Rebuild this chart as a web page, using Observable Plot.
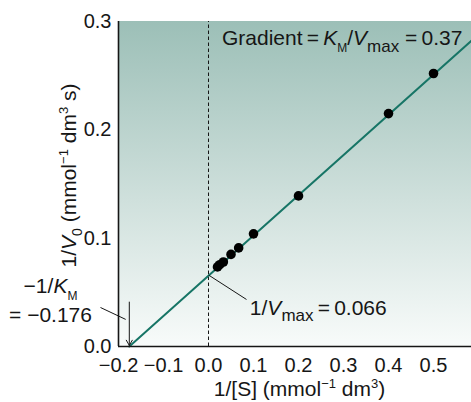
<!DOCTYPE html>
<html><head><meta charset="utf-8">
<script src="https://cdn.jsdelivr.net/npm/d3@7"></script>
<script src="https://cdn.jsdelivr.net/npm/@observablehq/plot@0.6"></script>
<style>body{margin:0;background:#fff} #chart svg{display:block}</style>
</head><body><div id="chart"></div>
<script>
// Data
const invS  = [0.02, 0.025, 0.033, 0.05, 0.067, 0.1, 0.2, 0.4, 0.5];
const invV0 = [0.0735, 0.0755, 0.078, 0.085, 0.091, 0.104, 0.139, 0.215, 0.252];
const fitX = [-0.176, 0.585];
const fitY = [0, 0.2825];
const invVmax = 0.066;
const negInvKm = -0.176;
const xTicks = [-0.2, -0.1, 0, 0.1, 0.2, 0.3, 0.4, 0.5];
const yTicks = [0, 0.1, 0.2, 0.3];

const FONT = "'Liberation Sans', Arial, Helvetica, sans-serif";
const INK = "#161616";

const points = invS.map((x, i) => ({x, y: invV0[i]}));
const fit = fitX.map((x, i) => ({x, y: fitY[i]}));

function richText(node, segs, size) {
  let shift = 0;
  for (const s of segs) {
    const ts = node.append("tspan").text(s.t);
    const target = s.sub ? size * 0.3 : s.sup ? -size * 0.4 : 0;
    if (target !== shift) { ts.attr("dy", target - shift); shift = target; }
    if (s.it) ts.attr("font-style", "italic");
    if (s.fs) ts.attr("font-size", s.fs);
    if (s.dx) ts.attr("dx", s.dx);
  }
}

// annotation placed at data coordinates via the plot's scales
function note(x, y, segs, {anchor = "start", size = 21} = {}) {
  return (index, scales) => {
    const g = d3.create("svg:g");
    const t = g.append("text")
      .attr("x", scales.x(x)).attr("y", scales.y(y))
      .attr("text-anchor", anchor).attr("font-size", size)
      .attr("font-family", FONT).attr("fill", INK);
    richText(t, segs, size);
    return g.node();
  };
}

const background = (index, scales, values, dims) => {
  const g = d3.create("svg:g");
  const grad = g.append("defs").append("linearGradient")
    .attr("id", "bgGrad").attr("x1", 0).attr("y1", 0).attr("x2", 0).attr("y2", 1);
  grad.append("stop").attr("offset", "0%").attr("stop-color", "#9cbfb7");
  grad.append("stop").attr("offset", "55%").attr("stop-color", "#cfe0dc");
  grad.append("stop").attr("offset", "100%").attr("stop-color", "#f8fbfa");
  const x0 = scales.x(xTicks[0]), x1 = dims.width - dims.marginRight;
  const y0 = scales.y(yTicks[yTicks.length - 1]), y1 = scales.y(0);
  g.append("rect").attr("x", x0).attr("y", y0)
    .attr("width", x1 - x0).attr("height", y1 - y0).attr("fill", "url(#bgGrad)");
  return g.node();
};

const axisLabels = (index, scales, values, dims) => {
  const g = d3.create("svg:g").attr("font-family", FONT).attr("fill", INK);
  const cx = (dims.marginLeft + dims.width - dims.marginRight) / 2;
  const tx = g.append("text").attr("x", cx + 5).attr("y", dims.height - 6)
    .attr("text-anchor", "middle").attr("font-size", 21);
  richText(tx, [{t: "1/[S] (mmol"}, {t: "\u22121", sup: true, fs: 13}, {t: " dm"}, {t: "3", sup: true, fs: 13}, {t: ")"}], 21);
  const cy = (dims.marginTop + dims.height - dims.marginBottom) / 2 - 8;
  const ty = g.append("text").attr("transform", `translate(76,${cy}) rotate(-90)`)
    .attr("text-anchor", "middle").attr("font-size", 21);
  richText(ty, [{t: "1/"}, {t: "V", it: true}, {t: "0", sub: true, fs: 14}, {t: " (mmol"}, {t: "\u22121", sup: true, fs: 13}, {t: " dm"}, {t: "3", sup: true, fs: 13}, {t: " s)"}], 21);
  return g.node();
};

const chart = Plot.plot({
  width: 471, height: 402,
  marginLeft: 118, marginRight: 0, marginTop: 21, marginBottom: 56,
  x: {domain: [-0.2, 0.5844]},
  y: {domain: [0, 0.3]},
  style: {fontFamily: FONT, fontSize: "20px", color: INK, background: "white", overflow: "visible"},
  marks: [
    background,
    Plot.ruleX([0], {y1: 0, y2: 0.3, stroke: INK, strokeWidth: 1, strokeDasharray: "3.5,2.5"}),
    Plot.line(fit, {x: "x", y: "y", stroke: "#177566", strokeWidth: 2}),
    Plot.dot(points, {x: "x", y: "y", r: 4.8, fill: "#000"}),
    Plot.link([{x1: 0, y1: invVmax, x2: 0.0844, y2: 0.0434}], {x1: "x1", y1: "y1", x2: "x2", y2: "y2", stroke: INK, strokeWidth: 1}),
    Plot.link([{x1: -0.24, y1: 0.036, x2: -0.184, y2: 0.025}], {x1: "x1", y1: "y1", x2: "x2", y2: "y2", stroke: INK, strokeWidth: 1}),
    Plot.arrow([{x: negInvKm, y1: 0.041, y2: 0.001}], {x1: "x", x2: "x", y1: "y1", y2: "y2", stroke: INK, strokeWidth: 1, headLength: 9}),
    note(0.031, 0.2775, [{t: "Gradient\u2009=\u2009"}, {t: "K", it: true}, {t: "M", sub: true, fs: 12}, {t: "/"}, {t: "V", it: true}, {t: "max", sub: true, fs: 17}, {t: " =\u20090.37"}]),
    note(0.093, 0.0285, [{t: "1/"}, {t: "V", it: true}, {t: "max", sub: true, fs: 17}, {t: "\u2009=\u20090.066"}]),
    note(-0.35, 0.0485, [{t: "\u22121/"}, {t: "K", it: true}, {t: "M", sub: true, fs: 12}], {anchor: "middle"}),
    note(-0.35, 0.0225, [{t: "= \u22120.176"}], {anchor: "middle"}),
    Plot.ruleX([xTicks[0]], {y1: 0, y2: 0.3, stroke: INK, strokeWidth: 1.6}),
    Plot.ruleY([0], {stroke: INK, strokeWidth: 1.6}),
    Plot.axisX(xTicks, {tickSize: 0, tickPadding: 11, tickFormat: d3.format(".1f"), label: null, fontSize: 20}),
    Plot.axisY(yTicks, {tickSize: 0, tickPadding: 7, tickFormat: d3.format(".1f"), label: null, fontSize: 20}),
    axisLabels
  ]
});
document.getElementById("chart").append(chart);
</script>
</body></html>
